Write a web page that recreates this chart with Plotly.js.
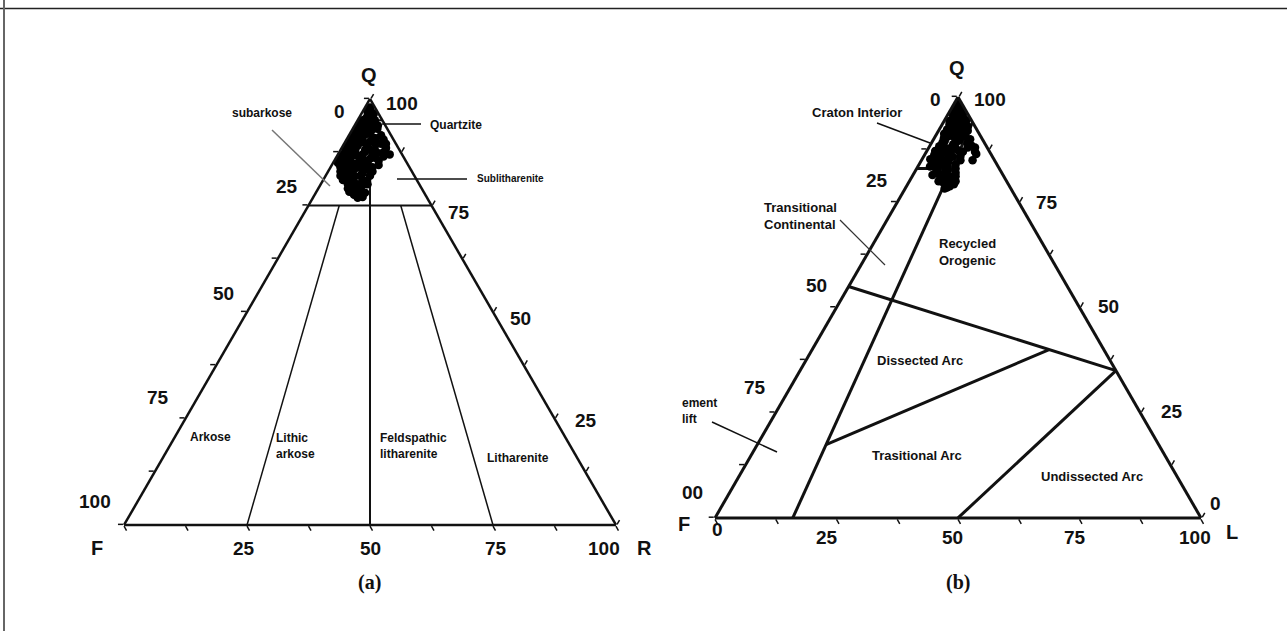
<!DOCTYPE html>
<html>
<head>
<meta charset="utf-8">
<script src="https://cdn.plot.ly/plotly-3.0.1.min.js"></script>
<style>
  html, body { margin: 0; padding: 0; background: #fff; }
  #chart { width: 1287px; height: 631px; }
</style>
</head>
<body>
<div id="chart"></div>
<script>
// (a) Q-F-R plot: sample points (Q, F, R in %)
var qfr_q = [98, 97.5, 97, 96.5, 96, 95.5, 95, 95, 94.5, 94, 94, 93.5, 93, 93, 92.5, 92, 92, 91.5, 91, 91,
             91, 90.5, 90, 90, 90, 89.5, 89, 89, 89, 88.5, 88, 88, 88, 88, 87.5, 87, 87, 87, 87, 86.5,
             86, 86, 86, 86, 85.5, 85, 85, 85, 85, 84.5, 84, 84, 84, 84, 83, 83, 83, 83, 82, 82,
             82, 82, 81, 81, 81, 80, 80, 80, 79, 79, 78.5, 78, 77.5, 77, 89.5, 87,
             97.2, 96.8, 95.8, 94.8, 94.2, 93.8, 93.2, 92.8, 92.3, 91.8, 91.2, 90.8, 90.3, 89.8, 89.3, 88.8,
             88.4, 87.8, 87.6, 87.3, 86.8, 86.3, 86.2, 85.7, 85.3, 84.8, 84.6, 84.2, 83.7, 83.4, 82.8, 82.4,
             81.8, 81.4, 80.8, 80.4, 79.6, 79.2, 78.7, 78.2, 77.8, 76.8];
var qfr_f = [1, 1.5, 2, 1, 2.5, 3, 1.5, 4, 3, 5, 2, 4, 6, 2, 5, 7, 4, 2, 8, 6,
             4, 2, 9, 7, 5, 3, 10, 8, 6, 2.5, 11, 9, 7, 5, 3.5, 12, 10, 8, 6, 4,
             13, 11, 9, 7, 5.5, 14, 12, 10, 8, 6, 14, 12, 10, 7.5, 14.5, 12, 10, 8, 15, 13,
             11, 9, 15, 13, 11, 14.5, 12.5, 10.5, 15, 13, 14, 12, 14.5, 13, 2, 2.5,
             1.8, 1.2, 2.2, 2.6, 3.6, 1.5, 4.8, 3.2, 6.2, 4.9, 6.8, 3.4, 8.2, 6.4, 4.2, 8.9,
             6.1, 10.3, 7.2, 4.8, 9.4, 11.8, 5.9, 8.4, 12.9, 10.9, 9.1, 13.3, 11.2, 8.7, 13.6, 10.4,
             12.2, 14.1, 10.2, 13.4, 11.9, 14.3, 12.6, 15.1, 13.2, 14.1];
var qfr_r = [1, 1, 1, 2.5, 1.5, 1.5, 3.5, 1, 2.5, 1, 4, 2.5, 1, 5, 2.5, 1, 4, 6.5, 1, 3,
             5, 7.5, 1, 3, 5, 7.5, 1, 3, 5, 9, 1, 3, 5, 7, 9, 1, 3, 5, 7, 9.5,
             1, 3, 5, 7, 9, 1, 3, 5, 7, 9.5, 2, 4, 6, 8.5, 2.5, 5, 7, 9, 3, 5,
             7, 9, 4, 6, 8, 5.5, 7.5, 9.5, 6, 8, 7.5, 10, 8, 10, 8.5, 10.5,
             1.0, 2.0, 2.0, 2.6, 2.2, 4.7, 2.0, 4.0, 1.5, 3.3, 2.0, 5.8, 1.5, 3.8, 6.5, 2.3,
             5.5, 1.9, 5.2, 7.9, 3.8, 1.9, 7.9, 5.9, 1.8, 4.3, 6.3, 2.5, 5.1, 7.9, 3.6, 7.2,
             6.0, 4.5, 9.0, 6.2, 8.5, 6.5, 8.7, 6.7, 9.0, 9.1];

// (b) Q-F-L plot: sample points (Q, F, L in %)
var qfl_q = [98.5, 98, 97.5, 97, 96.5, 96, 96, 95.5, 95, 94.5, 94, 94, 93.5, 93, 93, 92.5, 92, 92, 91.5, 91,
             91, 90.5, 90, 90, 89.5, 89, 89, 88.5, 88, 88, 88, 87.5, 87, 87, 86.5, 86.5, 86, 86, 85.5, 85,
             85, 85, 84.5, 84, 84, 83.5, 83, 83, 82.5, 82, 82, 81.5, 81, 80.5, 80, 79.5, 79, 78.5, 88.5, 87,
             80, 81.5, 83.5,
             97.8, 97.2, 96.3, 95.7, 95.2, 94.7, 94.3, 93.8, 93.3, 92.8, 92.3, 92.2, 91.7, 91.3, 90.8, 90.7,
             90.2, 89.7, 89.2, 88.8, 88.3, 87.8, 87.4, 87.2, 86.8, 86.2, 85.8, 85.4, 85.2, 84.7, 84.3, 83.8,
             83.2, 82.7, 82.2, 81.8, 81.2, 80.8, 80.2, 79.8, 79.3, 78.8, 78.3];
var qfl_f = [1, 0.5, 2, 1, 2.5, 1, 3, 2, 3.5, 1, 4, 2.5, 5, 3, 1.5, 5.5, 4, 2, 6.5, 4.5,
             3, 7, 5.5, 2.5, 8, 6, 3.5, 9, 7, 4, 2.5, 10, 8, 5.5, 11, 3, 9, 6.5, 12, 10,
             7, 4.5, 12.5, 11, 8.5, 13, 11, 9, 13, 11.5, 9.5, 13, 11, 12.5, 10.5, 12, 12.5, 13, 3, 3,
             14, 14.5, 14,
             1.4, 0.8, 1.8, 3.1, 1.4, 2.9, 4.6, 3.6, 2.2, 4.4, 6.1, 3.1, 5.1, 7.2, 5.9, 3.6,
             7.8, 4.9, 8.6, 6.6, 9.7, 8.2, 6.4, 11.1, 9.6, 11.8, 8.2, 10.9, 13.1, 9.6, 12.4, 10.3,
             12.6, 10.8, 13.4, 12.1, 9.9, 13.2, 11.7, 13.3, 11.2, 12.3, 13.6];
var qfl_l = [0.5, 1.5, 0.5, 2, 1, 3, 1, 2.5, 1.5, 4.5, 2, 3.5, 1.5, 4, 5.5, 2, 4, 6, 2, 4.5,
             6, 2.5, 4.5, 7.5, 2.5, 5, 7.5, 2.5, 5, 8, 9.5, 2.5, 5, 7.5, 2.5, 10.5, 5, 7.5, 2.5, 5,
             8, 10.5, 3, 5, 7.5, 3.5, 6, 8, 4.5, 6.5, 8.5, 5.5, 8, 7, 9.5, 8.5, 8.5, 8.5, 8.5, 10,
             6, 4, 2.5,
             0.8, 2.0, 1.9, 1.2, 3.4, 2.4, 1.1, 2.6, 4.5, 2.8, 1.6, 4.7, 3.2, 1.5, 3.3, 5.7,
             2.0, 5.4, 2.2, 4.6, 2.0, 4.0, 6.2, 1.7, 3.6, 2.0, 6.0, 3.7, 1.7, 5.7, 3.3, 5.9,
             4.2, 6.5, 4.4, 6.1, 8.9, 6.0, 8.1, 6.9, 9.5, 8.9, 8.1];

// (a) field boundaries (Q, F, R), null = break
var folk_main_q = [95, 95, null, 75, 75, null, 95, 0];
var folk_main_f = [5, 0, null, 25, 0, null, 2.5, 50];
var folk_main_r = [0, 5, null, 0, 25, null, 2.5, 50];
var folk_side_q = [75, 0, null, 75, 0];
var folk_side_f = [18.75, 75, null, 6.25, 25];
var folk_side_r = [6.25, 25, null, 18.75, 75];

// (b) field boundaries (Q, F, L), null = break
var dick_q = [83, 83, null, 94, 0, null, 55, 35, null, 17.4, 40, null, 35, 0];
var dick_f = [17, 9.8, null, 0, 84, null, 45, 0, null, 68.45, 11.25, null, 0, 50];
var dick_l = [0, 7.2, null, 6, 16, null, 0, 65, null, 14.15, 48.75, null, 65, 50];

// tick marks and tick labels
var tickPos = [0, 12.5, 25, 37.5, 50, 62.5, 75, 87.5, 100];
var a_left_lbl = ['0', '25', '50', '75', '100'];
var a_right_lbl = ['100', '75', '50', '25'];
var a_bottom_lbl = ['25', '50', '75', '100'];
var a_vertex_lbl = ['Q', 'F', 'R'];
var b_left_lbl = ['0', '25', '50', '75', '00'];
var b_right_lbl = ['100', '75', '50', '25', '0'];
var b_bottom_lbl = ['0', '25', '50', '75', '100'];
var b_vertex_lbl = ['Q', 'F', 'L'];

var INK = '#111';
var W = 1287, H = 631;

function ternAxis(lw) {
  return {
    title: {text: ''},
    tickmode: 'array', tickvals: tickPos, showticklabels: false,
    ticks: 'outside', ticklen: 5, tickwidth: 1.5, tickcolor: INK,
    showgrid: false, showline: true, linecolor: INK, linewidth: lw
  };
}

function label(text, x, y, anchor, size, bold) {
  return {
    xref: 'paper', yref: 'paper', x: x / W, y: 1 - y / H,
    text: text, showarrow: false, xanchor: anchor || 'center', yanchor: 'middle',
    align: 'left',
    font: {size: size || 13, color: INK, weight: bold ? 'bold' : 'normal'}
  };
}

function leader(x0, y0, x1, y1, color, w) {
  return {
    type: 'line', xref: 'paper', yref: 'paper',
    x0: x0 / W, y0: 1 - y0 / H, x1: x1 / W, y1: 1 - y1 / H,
    line: {color: color || INK, width: w || 1.5}
  };
}

// tick / vertex label placement (pixel centres)
function tickLabels(texts, spots, size) {
  return texts.map(function (t, i) {
    return label(t, spots[i][0], spots[i][1], 'center', size, true);
  });
}

var annotations = [].concat(
  tickLabels(a_left_lbl, [[339, 111], [287, 186], [223, 293], [158, 397], [95, 501]], 19),
  tickLabels(a_right_lbl, [[402, 104], [459, 212], [520, 318], [586, 420]], 19),
  tickLabels(a_bottom_lbl, [[244, 548], [370, 548], [496, 548], [604, 548]], 19),
  tickLabels(a_vertex_lbl, [[369, 75], [97, 548], [644, 548]], 20),
  tickLabels(b_left_lbl, [[935, 100], [877, 180], [816, 285], [755, 387], [692, 492]], 19),
  tickLabels(b_right_lbl, [[990, 100], [1047, 203], [1108, 307], [1172, 411], [1215, 503]], 19),
  tickLabels(b_bottom_lbl, [[717, 529], [827, 537], [952, 537], [1075, 537], [1195, 537]], 19),
  tickLabels(b_vertex_lbl, [[957, 68], [684, 524], [1232, 532]], 20),
  [
    label('subarkose', 262, 113, 'center', 12, true),
    label('Quartzite', 428, 125, 'left', 12, true),
    label('Sublitharenite', 475, 179, 'left', 10, true),
    label('Arkose', 210, 437, 'center', 12, true),
    label('Lithic<br>arkose', 274, 446, 'left', 12, true),
    label('Feldspathic<br>litharenite', 378, 446, 'left', 12, true),
    label('Litharenite', 518, 458, 'center', 12, true),
    label('Craton Interior', 857, 112, 'center', 13, true),
    label('Transitional<br>Continental', 762, 216, 'left', 13, true),
    label('Recycled<br>Orogenic', 937, 252, 'left', 13, true),
    label('Dissected Arc', 875, 360, 'left', 13, true),
    label('Trasitional Arc', 870, 455, 'left', 13, true),
    label('Undissected Arc', 1039, 476, 'left', 13, true),
    label('ement<br>lift', 680, 411, 'left', 12, true),
    {xref: 'paper', yref: 'paper', x: 369 / W, y: 1 - 582 / H, text: '(a)', showarrow: false,
     xanchor: 'center', yanchor: 'middle',
     font: {family: 'Liberation Serif, Times New Roman, serif', size: 20, weight: 'bold', color: INK}},
    {xref: 'paper', yref: 'paper', x: 958 / W, y: 1 - 582 / H, text: '(b)', showarrow: false,
     xanchor: 'center', yanchor: 'middle',
     font: {family: 'Liberation Serif, Times New Roman, serif', size: 20, weight: 'bold', color: INK}}
  ]
);

var traces = [
  {type: 'scatterternary', subplot: 'ternary', mode: 'lines', a: folk_main_q, b: folk_main_f, c: folk_main_r,
   line: {color: INK, width: 2}, connectgaps: false, hoverinfo: 'skip'},
  {type: 'scatterternary', subplot: 'ternary', mode: 'lines', a: folk_side_q, b: folk_side_f, c: folk_side_r,
   line: {color: INK, width: 1.5}, connectgaps: false, hoverinfo: 'skip'},
  {type: 'scatterternary', subplot: 'ternary', mode: 'markers', a: qfr_q, b: qfr_f, c: qfr_r,
   marker: {color: '#000', size: 8.5}},
  {type: 'scatterternary', subplot: 'ternary2', mode: 'lines', a: dick_q, b: dick_f, c: dick_l,
   line: {color: INK, width: 3}, connectgaps: false, hoverinfo: 'skip'},
  {type: 'scatterternary', subplot: 'ternary2', mode: 'markers', a: qfl_q, b: qfl_f, c: qfl_l,
   marker: {color: '#000', size: 8.5}}
];

var layout = {
  width: W, height: H,
  margin: {l: 0, r: 0, t: 0, b: 0},
  paper_bgcolor: '#fff',
  showlegend: false,
  font: {family: 'Liberation Sans, Arial, sans-serif', color: INK, size: 13},
  ternary: {
    sum: 100, bgcolor: '#fff',
    domain: {x: [0.09635, 0.47863], y: [0.16799, 0.84311]},
    aaxis: ternAxis(2.5), baxis: ternAxis(2.5), caxis: ternAxis(2.5)
  },
  ternary2: {
    sum: 100, bgcolor: '#fff',
    domain: {x: [0.55556, 0.93318], y: [0.17908, 0.84628]},
    aaxis: ternAxis(3), baxis: ternAxis(3), caxis: ternAxis(3)
  },
  annotations: annotations,
  shapes: [
    // figure frame (top and left)
    {type: 'line', xref: 'paper', yref: 'paper', x0: 0, x1: 1, y0: 1 - 8.5 / H, y1: 1 - 8.5 / H,
     line: {color: '#222', width: 1.5}},
    {type: 'line', xref: 'paper', yref: 'paper', x0: 4 / W, x1: 4 / W, y0: 0, y1: 1,
     line: {color: '#666', width: 2}},
    // leader lines
    leader(272, 130, 330, 186, '#777', 1.5),
    leader(382, 124, 421, 124, INK, 1.5),
    leader(397, 179, 467, 179, INK, 1.5),
    leader(877, 123, 930, 143, INK, 1.5),
    leader(840, 220, 885, 265, '#333', 1.2),
    leader(712, 422, 777, 452, INK, 1.5)
  ]
};

Plotly.newPlot('chart', traces, layout, {displayModeBar: false, staticPlot: true});
</script>
</body>
</html>
